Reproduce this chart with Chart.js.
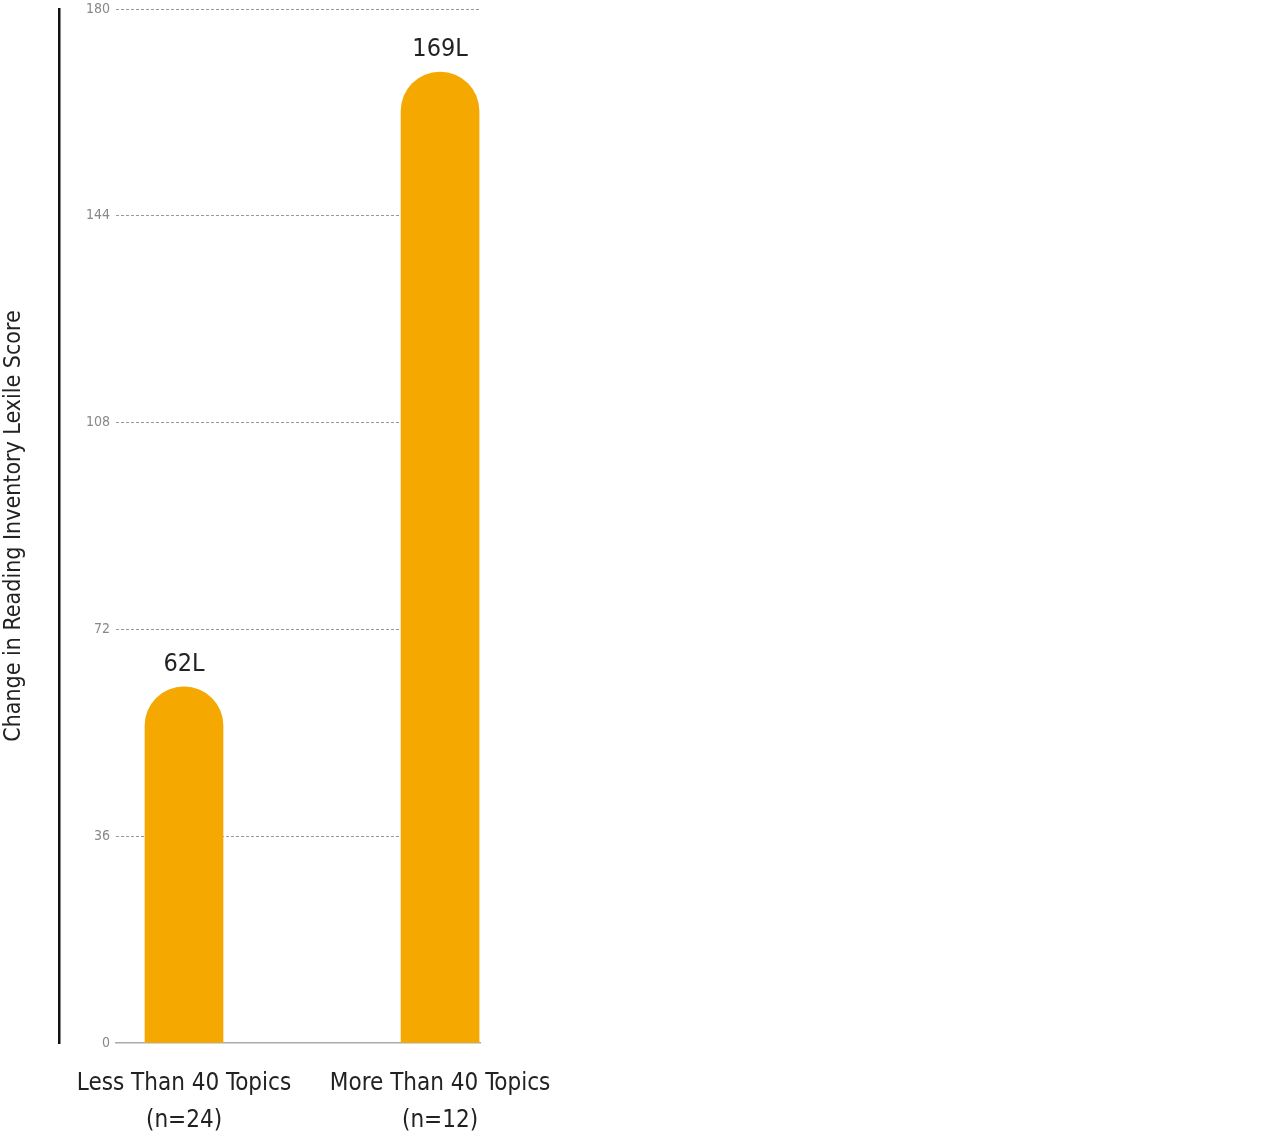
<!DOCTYPE html>
<html>
<head>
<meta charset="utf-8">
<script src="https://cdn.jsdelivr.net/npm/chart.js@4"></script>
<style>
html,body{margin:0;padding:0;background:#fff;}
#wrap{width:1280px;height:1137px;position:relative;}
</style>
</head>
<body>
<div id="wrap"><canvas id="c"></canvas></div>
<script>
const categories = [["Less Than 40 Topics", "(n=24)"], ["More Than 40 Topics", "(n=12)"]];
const values = [62, 169];
const valueLabels = ["62L", "169L"];
const yTicks = [0, 36, 72, 108, 144, 180];
const yTitle = "Change in Reading Inventory Lexile Score";

const FONT = "'Liberation Sans Narrow', 'DejaVu Sans Condensed', 'Arial Narrow', sans-serif";
const BAR = '#F5A800';

const labelPlugin = {
  id: 'valueLabels',
  afterDatasetsDraw(chart) {
    const ctx = chart.ctx;
    const meta = chart.getDatasetMeta(0);
    ctx.save();
    ctx.font = "25px " + FONT;
    ctx.fillStyle = '#222';
    ctx.textAlign = 'center';
    ctx.textBaseline = 'bottom';
    meta.data.forEach((el, i) => {
      ctx.fillText(valueLabels[i], el.x, el.y - 10);
    });
    ctx.restore();
  }
};

new Chart(document.getElementById('c'), {
  type: 'bar',
  data: {
    datasets: [{
      data: values.map((v, i) => ({x: i, y: v})),
      backgroundColor: BAR,
      barThickness: 78,
      borderRadius: {topLeft: 39, topRight: 39, bottomLeft: 0, bottomRight: 0},
      borderSkipped: 'bottom'
    }]
  },
  options: {
    responsive: true,
    maintainAspectRatio: false,
    animation: false,
    layout: {padding: {top: 9, right: 800, bottom: 0, left: 0}},
    plugins: {legend: {display: false}, tooltip: {enabled: false}},
    scales: {
      x: {
        type: 'linear',
        offset: false,
        min: -0.2656,
        max: 1.156,
        afterBuildTicks: (s) => { s.ticks = categories.map((c, i) => ({value: i})); },
        afterFit: (s) => { s.height = 94; s.paddingLeft = 0; s.paddingRight = 0; },
        grid: {display: false, drawTicks: false, offset: false},
        border: {display: true, color: '#aaa', width: 1.5},
        ticks: {
          autoSkip: false, maxRotation: 0, padding: 22,
          color: '#222',
          font: {family: FONT, size: 24, lineHeight: 1.55},
          callback: (v) => categories[v]
        }
      },
      y: {
        min: 0, max: 180,
        weight: 0,
        afterBuildTicks: (s) => { s.ticks = yTicks.map(v => ({value: v})); },
        afterFit: (s) => { s.width = 57; s.paddingTop = 0; s.paddingBottom = 0; },
        grid: {
          drawTicks: false,
          color: (c) => c.tick && c.tick.value === 0 ? 'rgba(0,0,0,0)' : '#999',
          lineWidth: 1
        },
        border: {display: false, dash: [3, 2]},
        ticks: {padding: 6, color: '#888', font: {family: FONT, size: 14}}
      },
      y2: {
        position: 'left',
        min: 0, max: 180,
        weight: 1,
        afterFit: (s) => { s.width = 59; s.paddingTop = 0; s.paddingBottom = 0; },
        grid: {display: false, drawTicks: false},
        border: {display: true, color: '#111', width: 2.5},
        ticks: {display: false},
        title: {
          display: true, text: yTitle, color: '#222',
          font: {family: FONT, size: 23, lineHeight: 1.2},
          padding: 0
        }
      }
    }
  },
  plugins: [labelPlugin]
});
</script>
</body>
</html>
